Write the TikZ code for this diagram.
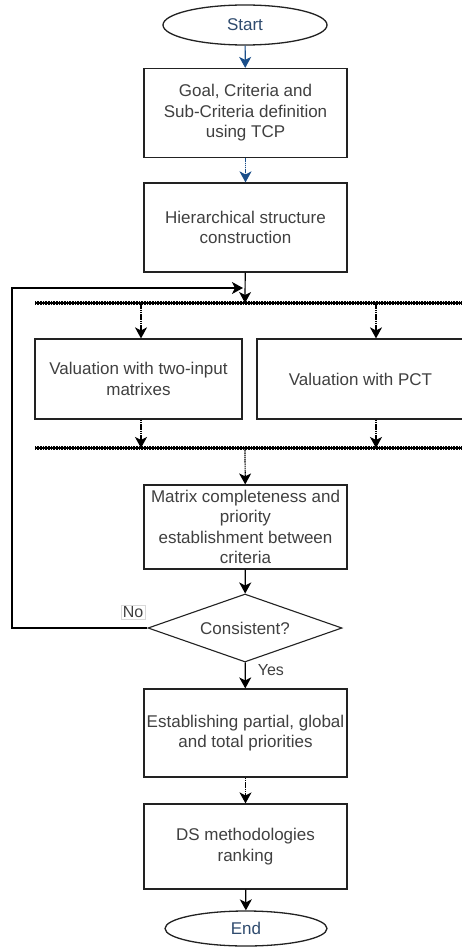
\documentclass[tikz,border=0pt]{standalone}
\usepackage{fontspec}
\setmainfont{Liberation Sans}
\usetikzlibrary{shapes.geometric,arrows.meta}
\definecolor{txt}{HTML}{404040}
\definecolor{term}{HTML}{2F4B6E}
\definecolor{navy}{HTML}{1B4F8A}
\definecolor{edge}{HTML}{222222}
\begin{document}
\begin{tikzpicture}[x=1pt,y=-1pt,
  every node/.style={font=\fontsize{17}{20.5}\selectfont, text=txt, align=center, inner sep=0pt},
  proc/.style={draw=edge, line width=1.2pt, rectangle, minimum width=203pt},
  term/.style={draw=edge, line width=1.3pt, ellipse, text=term},
  dec/.style={draw=edge, line width=1.1pt, diamond, aspect=2.85, minimum width=194pt, minimum height=68pt},
  bar/.style={line width=3.2pt, dash pattern=on 1pt off 0.6pt},
  arr/.style={draw=black, line width=1.2pt, -{Stealth[length=11pt,width=12pt,inset=3pt]}},
  darr/.style={arr, dash pattern=on 1.5pt off 0.7pt},
  lbl/.style={font=\fontsize{16}{19}\selectfont}
]
\useasboundingbox (0,0) rectangle (462,947);
\fill[white] (0,0) rectangle (462,947);

\node[term, minimum width=164pt, minimum height=40pt] (start) at (245,25) {Start};
\node[proc, minimum height=89pt] (b1) at (245.5,113) {Goal, Criteria and\\Sub-Criteria definition\\using TCP};
\node[proc, minimum height=89pt] (b2) at (245.5,227.5) {Hierarchical structure\\construction};
\coordinate (bar1L) at (35,303);
\coordinate (bar1R) at (470,303);
\coordinate (bar1c) at (245,303);
\coordinate (bar1a) at (141,303);
\coordinate (bar1b) at (376,303);
\node[proc, minimum width=207pt, minimum height=80pt] (vl) at (138.5,379) {Valuation with two-input\\matrixes};
\node[proc, minimum width=207pt, minimum height=80pt] (vr) at (360.5,379) {Valuation with PCT};
\coordinate (bar2L) at (35,448);
\coordinate (bar2R) at (470,448);
\coordinate (bar2a) at (141,448);
\coordinate (bar2b) at (376,448);
\coordinate (bar2c) at (245,448);
\node[proc, minimum height=84pt] (b3) at (245.5,527) {Matrix completeness and\\priority\\establishment between\\criteria};
\node[dec] (d) at (245,628) {Consistent?};
\node[proc, minimum height=88pt] (b4) at (245.5,733) {Establishing partial, global\\and total priorities};
\node[proc, minimum height=85pt] (b5) at (245.5,846.5) {DS methodologies\\ranking};
\node[term, minimum width=162pt, minimum height=35pt] (end) at (246,928.5) {End};

\coordinate (c1) at (12,628);
\coordinate (c2) at (12,288);
\coordinate (loopend) at (243,288);

% bars
\draw[line width=1.4pt] (bar1L) -- (bar1R);
\draw[bar] (bar1L) -- (bar1R);
\draw[line width=1.4pt] (bar2L) -- (bar2R);
\draw[bar] (bar2L) -- (bar2R);

% connectors
\draw[arr, draw=navy, fill=navy] (start) -- (b1);
\draw[darr, draw=navy, fill=navy] (b1) -- (b2);
\draw[arr] (b2) -- (bar1c);
\draw[darr] (bar1a) -- (bar1a |- vl.north);
\draw[darr] (bar1b) -- (bar1b |- vr.north);
\draw[darr] (bar2a |- vl.south) -- (bar2a);
\draw[darr] (bar2b |- vr.south) -- (bar2b);
\draw[darr] (bar2c) -- (b3);
\draw[arr] (b3) -- (d);
\draw[arr] (d) -- (b4) node[lbl, pos=0.3, right=12pt] {Yes};
\draw[darr] (b4) -- (b5);
\draw[arr] (b5) -- (end);
\draw[arr] (d.west) -- (c1) -- (c2) -- (loopend);
\node[lbl, draw=black!15, fill=white, inner sep=1.5pt] (no) at (133,612) {No};
\end{tikzpicture}
\end{document}
